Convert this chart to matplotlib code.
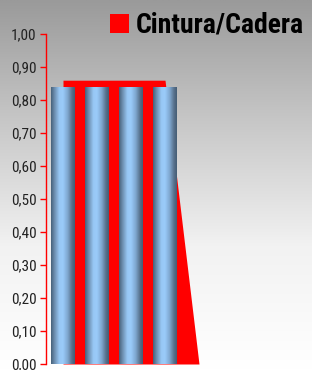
import numpy as np
import matplotlib
matplotlib.use("Agg")
import matplotlib.pyplot as plt
from matplotlib.colors import LinearSegmentedColormap
from matplotlib.patches import Rectangle

# ---- data ----
categories = ["1", "2", "3", "4", "5"]
area_values = [0.86, 0.86, 0.86, 0.86, 0.0]      # Cintura/Cadera (red area)
bar_values = [0.84, 0.84, 0.84, 0.84]            # cylinder bars
yticks = [0.0, 0.1, 0.2, 0.3, 0.4, 0.5, 0.6, 0.7, 0.8, 0.9, 1.0]
ytick_labels = ["0,00", "0,10", "0,20", "0,30", "0,40", "0,50",
                "0,60", "0,70", "0,80", "0,90", "1,00"]
legend_label = "Cintura/Cadera"

FONT = ["Roboto Condensed", "Archivo Narrow", "DejaVu Sans"]

W, H = 312, 370
fig = plt.figure(figsize=(W / 100, H / 100), dpi=100)

# background gradient
bg = fig.add_axes([0, 0, 1, 1], zorder=-10)
grad = np.linspace(0, 1, 256).reshape(-1, 1)
bg_cmap = LinearSegmentedColormap.from_list("bg", ["#9a9a9a", "#c8c8c8", "#f2f2f2", "#ffffff"])
bg.imshow(grad, aspect="auto", cmap=bg_cmap, extent=[0, 1, 0, 1], origin="upper")
bg.set_axis_off()

left, right = 46 / W, 216 / W
bottom, top = (H - 364) / H, (H - 34) / H
ax = fig.add_axes([left, bottom, right - left, top - bottom])
ax.patch.set_alpha(0)

x = np.arange(len(categories))
ax.fill_between(x, area_values, 0, color="#ff0000", linewidth=0, zorder=1)

bx = np.arange(len(bar_values))
bars = ax.bar(bx, bar_values, width=0.70, color="none", linewidth=0, zorder=2)

cyl = LinearSegmentedColormap.from_list(
    "cyl", [(0.0, "#47617a"), (0.15, "#6d8fb0"), (0.35, "#98c8f5"),
            (0.5, "#9acbfa"), (0.7, "#7fa7cf"), (0.88, "#57718c"), (1.0, "#455d75")])
hgrad = np.linspace(0, 1, 128).reshape(1, -1)
for b in bars:
    x0, y0 = b.get_x(), b.get_y()
    w, h = b.get_width(), b.get_height()
    im = ax.imshow(hgrad, aspect="auto", cmap=cyl, extent=[x0, x0 + w, y0, y0 + h],
                   zorder=3, interpolation="bilinear")
    im.set_clip_path(b)

ax.set_xlim(-0.5, len(categories) - 0.5)
ax.set_ylim(0, 1.0)
ax.set_yticks(yticks)
ax.set_yticklabels(ytick_labels)
ax.set_xticks([])
for s in ["top", "right", "bottom"]:
    ax.spines[s].set_visible(False)
ax.spines["left"].set_color("#ff0000")
ax.spines["left"].set_linewidth(1.0)
ax.tick_params(axis="y", colors="#ff0000", length=4, width=1, direction="out", pad=3)
for lab in ax.get_yticklabels():
    lab.set_color("#222222")
    lab.set_fontfamily(FONT)
    lab.set_fontsize(11)

# legend
fig.patches.append(Rectangle((110 / W, 1 - 33 / H), 19 / W, 19 / H,
                             transform=fig.transFigure, facecolor="#ff0000",
                             edgecolor="none", figure=fig))
fig.text(136 / W, 1 - 33 / H, legend_label, fontsize=20, fontweight="bold",
         family=FONT, color="#000000", ha="left", va="baseline")

fig.savefig("out.png", dpi=100)
